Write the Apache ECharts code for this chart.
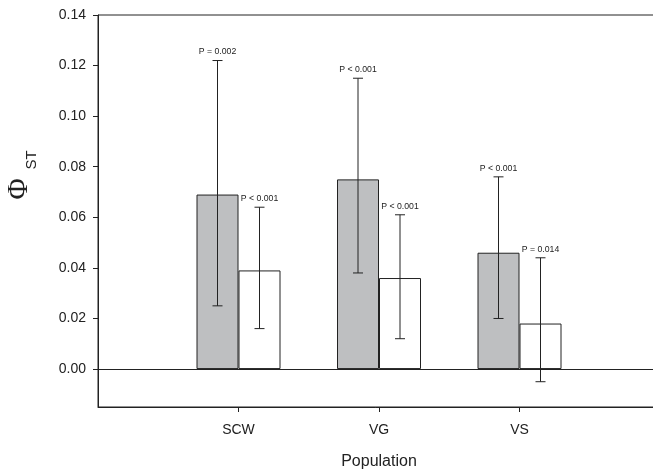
<!DOCTYPE html>
<html>
<head>
<meta charset="utf-8">
<script src="https://cdn.jsdelivr.net/npm/echarts@6/dist/echarts.min.js"></script>
<style>html,body{margin:0;padding:0;background:#fff;}#c{width:653px;height:473px;}</style>
</head>
<body>
<div id="c"></div>
<script>
var categories = ['', 'SCW', 'VG', 'VS', ''];
var grayValues = [null, 0.069, 0.075, 0.046, null];
var grayLow = [0.025, 0.038, 0.020];
var grayHigh = [0.122, 0.115, 0.076];
var grayP = ['P = 0.002', 'P < 0.001', 'P < 0.001'];
var whiteValues = [null, 0.039, 0.036, 0.018, null];
var whiteLow = [0.016, 0.012, -0.005];
var whiteHigh = [0.064, 0.061, 0.044];
var whiteP = ['P < 0.001', 'P < 0.001', 'P = 0.014'];
var yTicks = [0, 0.02, 0.04, 0.06, 0.08, 0.10, 0.12, 0.14];

function errData(low, high, labels) {
  return low.map(function (l, i) { return [i + 1, l, high[i], labels[i]]; });
}

function errSeries(data, side) {
  return {
    type: 'custom',
    silent: true,
    z: 5,
    clip: false,
    data: data,
    encode: { x: 0, y: [1, 2] },
    renderItem: function (params, api) {
      var xi = api.value(0);
      var lo = api.coord([xi, api.value(1)]);
      var hi = api.coord([xi, api.value(2)]);
      var x = lo[0] + side * 21;
      var cap = 5;
      var ls = { stroke: '#222', lineWidth: 1 };
      return {
        type: 'group',
        children: [
          { type: 'line', shape: { x1: x, y1: lo[1], x2: x, y2: hi[1] }, style: ls },
          { type: 'line', shape: { x1: x - cap, y1: lo[1], x2: x + cap, y2: lo[1] }, style: ls },
          { type: 'line', shape: { x1: x - cap, y1: hi[1], x2: x + cap, y2: hi[1] }, style: ls },
          { type: 'text', style: { x: x, y: hi[1] - 4, text: api.value(3), textAlign: 'center', textVerticalAlign: 'bottom', fontSize: 8.7, fontFamily: 'Liberation Sans, Arial', fill: '#222' } }
        ]
      };
    }
  };
}

var chart = echarts.init(document.getElementById('c'));
chart.setOption({
  animation: false,
  backgroundColor: '#fff',
  grid: { left: 98, top: 15, width: 562, height: 392, outerBoundsMode: 'none', containLabel: false, show: true, borderColor: '#222', borderWidth: 1, backgroundColor: 'transparent' },
  xAxis: {
    type: 'category',
    data: categories,
    boundaryGap: false,
    name: 'Population',
    nameLocation: 'middle',
    nameGap: 47,
    nameTextStyle: { fontSize: 16, color: '#222', fontFamily: 'Liberation Sans, Arial' },
    axisLine: { onZero: false, lineStyle: { color: '#222', width: 1 } },
    axisTick: { length: 5, lineStyle: { color: '#222' }, interval: function (i) { return i >= 1 && i <= 3; } },
    axisLabel: { fontSize: 14, color: '#222', margin: 16, fontFamily: 'Liberation Sans, Arial', interval: 0 },
    splitLine: { show: false }
  },
  yAxis: {
    type: 'value',
    min: -0.015,
    max: 0.14,
    axisLine: { show: true, lineStyle: { color: '#222', width: 1 } },
    axisTick: { show: true, length: 5, inside: false, lineStyle: { color: '#222' }, customValues: yTicks },
    axisLabel: { fontSize: 14, color: '#222', margin: 12, fontFamily: 'Liberation Sans, Arial', customValues: yTicks,
      formatter: function (v) { return v.toFixed(2); } },
    splitLine: { show: false }
  },
  graphic: [
    { id: 'phi', type: 'text', x: 19, y: 189, rotation: Math.PI / 2,
      style: { text: 'Φ', fontSize: 29, fontFamily: 'Liberation Serif, DejaVu Serif, serif', fill: '#222', textAlign: 'center', textVerticalAlign: 'middle' } },
    { id: 'st', type: 'text', x: 32, y: 160, rotation: Math.PI / 2,
      style: { text: 'ST', fontSize: 15, fontFamily: 'Liberation Sans, Arial', fill: '#222', textAlign: 'center', textVerticalAlign: 'middle' } }
  ],
  series: [
    {
      type: 'bar',
      data: grayValues,
      barWidth: 42,
      barGap: '0%',
      itemStyle: { color: '#bebfc1', borderColor: '#222', borderWidth: 1 },
      markLine: {
        silent: true, symbol: 'none', label: { show: false },
        lineStyle: { color: '#222', width: 1, type: 'solid' },
        data: [{ yAxis: 0 }]
      }
    },
    {
      type: 'bar',
      data: whiteValues,
      barWidth: 42,
      barGap: '0%',
      itemStyle: { color: '#fff', borderColor: '#222', borderWidth: 1 }
    },
    errSeries(errData(grayLow, grayHigh, grayP), -1),
    errSeries(errData(whiteLow, whiteHigh, whiteP), 1)
  ]
});
</script>
</body>
</html>
